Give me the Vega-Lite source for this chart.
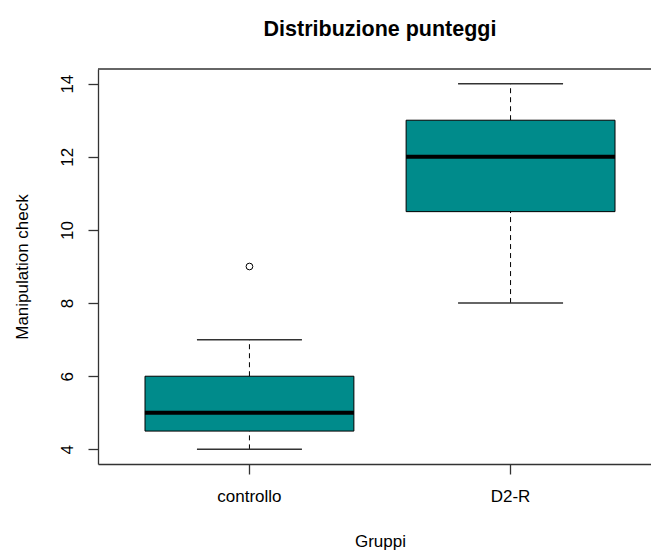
{
  "$schema": "https://vega.github.io/schema/vega-lite/v6.json",
  "width": 553,
  "height": 395,
  "autosize": {"type": "none"},
  "padding": {"left": 98, "top": 69, "right": 0, "bottom": 88},
  "background": "white",
  "config": {
    "view": {"stroke": null},
    "font": "Liberation Sans",
    "axis": {"grid": false, "domainColor": "#333", "domainWidth": 1.3, "tickColor": "#333", "tickWidth": 1.3, "labelColor": "#000", "titleColor": "#000", "labelFont": "Liberation Sans", "titleFont": "Liberation Sans"}
  },
  "title": {
    "text": "Distribuzione punteggi",
    "font": "Liberation Sans",
    "fontSize": 21.5,
    "fontWeight": "bold",
    "color": "#000",
    "anchor": "middle",
    "frame": "group",
    "dx": 5.5,
    "offset": 11,
    "baseline": "alphabetic"
  },
  "datasets": {
    "stats": [
      {"group": "controllo", "lower": 4, "q1": 4.5, "median": 5, "q3": 6, "upper": 7},
      {"group": "D2-R", "lower": 8, "q1": 10.5, "median": 12, "q3": 13, "upper": 14}
    ],
    "outliers": [
      {"group": "controllo", "value": 9}
    ],
    "frame": [
      {"top": 14.4}
    ]
  },
  "layer": [
    {
      "data": {"name": "stats"},
      "mark": {"type": "rule", "color": "#000", "strokeWidth": 1, "strokeDash": [5, 4]},
      "encoding": {
        "x": {
          "field": "group", "type": "nominal", "sort": ["controllo", "D2-R"],
          "scale": {"range": [0, 564], "paddingInner": 0.2, "paddingOuter": 0.18},
          "axis": {"orient": "bottom", "title": "Gruppi", "labelAngle": 0, "tickSize": 10, "labelPadding": 14, "labelBaseline": "top", "labelFontSize": 17, "titleFontSize": 17, "titleFontWeight": "normal", "titleX": 282, "titleY": 77, "titleAlign": "center", "titleBaseline": "middle"}
        },
        "y": {
          "field": "lower", "type": "quantitative",
          "scale": {"domain": [3.6, 14.4], "nice": false, "zero": false},
          "axis": {"values": [4, 6, 8, 10, 12, 14], "title": "Manipulation check", "labelAngle": 270, "labelAlign": "center", "labelBaseline": "alphabetic", "labelPadding": 16, "tickSize": 10, "labelFontSize": 17, "titleFontSize": 17, "titleFontWeight": "normal", "titleX": -76, "titleY": 197.5, "titleAngle": 270, "titleAlign": "center", "titleBaseline": "middle"}
        },
        "y2": {"field": "q1"}
      }
    },
    {
      "data": {"name": "stats"},
      "mark": {"type": "rule", "color": "#000", "strokeWidth": 1, "strokeDash": [5, 4]},
      "encoding": {
        "x": {"field": "group", "type": "nominal", "sort": ["controllo", "D2-R"]},
        "y": {"field": "q3", "type": "quantitative"},
        "y2": {"field": "upper"}
      }
    },
    {
      "data": {"name": "stats"},
      "mark": {"type": "tick", "color": "#333", "size": 105, "thickness": 1.5, "opacity": 1},
      "encoding": {
        "x": {"field": "group", "type": "nominal", "sort": ["controllo", "D2-R"]},
        "y": {"field": "lower", "type": "quantitative"}
      }
    },
    {
      "data": {"name": "stats"},
      "mark": {"type": "tick", "color": "#333", "size": 105, "thickness": 1.5, "opacity": 1},
      "encoding": {
        "x": {"field": "group", "type": "nominal", "sort": ["controllo", "D2-R"]},
        "y": {"field": "upper", "type": "quantitative"}
      }
    },
    {
      "data": {"name": "stats"},
      "mark": {"type": "bar", "fill": "#008B8B", "stroke": "#000", "strokeWidth": 1, "opacity": 1},
      "encoding": {
        "x": {"field": "group", "type": "nominal", "sort": ["controllo", "D2-R"]},
        "y": {"field": "q1", "type": "quantitative"},
        "y2": {"field": "q3"}
      }
    },
    {
      "data": {"name": "stats"},
      "mark": {"type": "tick", "color": "#000", "size": 209, "thickness": 4, "opacity": 1},
      "encoding": {
        "x": {"field": "group", "type": "nominal", "sort": ["controllo", "D2-R"]},
        "y": {"field": "median", "type": "quantitative"}
      }
    },
    {
      "data": {"name": "outliers"},
      "mark": {"type": "point", "shape": "circle", "filled": false, "stroke": "#000", "strokeWidth": 1, "size": 45, "opacity": 1},
      "encoding": {
        "x": {"field": "group", "type": "nominal", "sort": ["controllo", "D2-R"]},
        "y": {"field": "value", "type": "quantitative"}
      }
    },
    {
      "data": {"name": "frame"},
      "mark": {"type": "rule", "color": "#333", "strokeWidth": 1.3},
      "encoding": {
        "y": {"field": "top", "type": "quantitative"}
      }
    }
  ]
}
